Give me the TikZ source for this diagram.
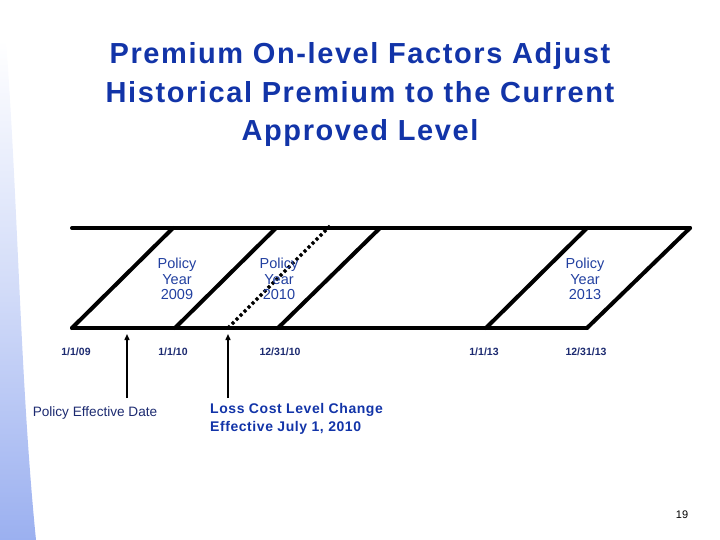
\documentclass[tikz,border=0pt]{standalone}
\usepackage{fontspec}
\setmainfont{Liberation Sans}
\usetikzlibrary{arrows.meta}
\definecolor{titleblue}{RGB}{18,52,168}
\definecolor{pyblue}{RGB}{34,64,160}
\definecolor{datenavy}{RGB}{28,42,112}
\definecolor{swoosh}{RGB}{155,176,240}
\tikzset{
  band/.style={line width=4pt, line cap=round, line join=round},
  dotline/.style={line width=3.5pt, dash pattern=on 3pt off 2.65pt},
  pointer/.style={line width=1.4pt, -{Triangle[length=6pt,width=5pt]}},
  datelbl/.style={font=\fontsize{10.5}{12}\selectfont\bfseries, text=datenavy, inner sep=0pt},
  pylbl/.style={font=\fontsize{14.5}{15.5}\selectfont, text=pyblue, align=center, inner sep=0pt},
  notelbl/.style={font=\fontsize{13.6}{15}\selectfont, text=datenavy, inner sep=0pt},
  lcllbl/.style={font=\fontsize{14}{18}\selectfont\bfseries\addfontfeature{LetterSpace=4}, text=titleblue, align=left, inner sep=0pt},
  titlelbl/.style={font=\fontsize{29}{38.5}\selectfont\bfseries\addfontfeature{LetterSpace=5.5}, text=titleblue, align=center, inner sep=0pt},
}
\begin{document}
\begin{tikzpicture}[x=1pt,y=-1pt]
\useasboundingbox (0,0) rectangle (720,540);
% background swoosh
\shade[top color=white, bottom color=swoosh, middle color=swoosh!45]
  (0,40) -- (6,40) .. controls (18,200) and (20,380) .. (36,540) -- (0,540) -- cycle;
% band lines
\coordinate (TL) at (72,228);
\coordinate (TR) at (690,228);
\coordinate (BL) at (72,328);
\coordinate (BR) at (587,328);
\coordinate (b09) at (72,328);   \coordinate (t09) at (173,228);
\coordinate (b10) at (175,328);  \coordinate (t10) at (276,228);
\coordinate (b11) at (278,328);  \coordinate (t11) at (380,228);
\coordinate (b13) at (486,328);  \coordinate (t13) at (587,228);
\coordinate (b14) at (587,328);  \coordinate (t14) at (690,228);
\coordinate (dB) at (228,328);   \coordinate (dT) at (330,226);
\draw[band] (TL) -- (TR);
\draw[band] (BL) -- (BR);
\foreach \p in {09,10,11,13,14} \draw[band] (b\p) -- (t\p);
\draw[dotline] (dB) -- (dT);
% policy year labels
\node[pylbl] (py09) at (177,279) {Policy\\Year\\2009};
\node[pylbl] (py10) at (279,279) {Policy\\Year\\2010};
\node[pylbl] (py13) at (585,279) {Policy\\Year\\2013};
% dates
\node[datelbl] (d1) at (76,352) {1/1/09};
\node[datelbl] (d2) at (173,352) {1/1/10};
\node[datelbl] (d3) at (280,352) {12/31/10};
\node[datelbl] (d4) at (484,352) {1/1/13};
\node[datelbl] (d5) at (586,352) {12/31/13};
% arrows
\coordinate (a1s) at (127,398);
\coordinate (a1e) at (127,334);
\coordinate (a2s) at (228,398);
\coordinate (a2e) at (228,334);
\draw[pointer] (a1s) -- (a1e);
\draw[pointer] (a2s) -- (a2e);
% notes
\node[notelbl] (ped) at (95,413) {Policy Effective Date};
\node[lcllbl, anchor=west] (lcl) at (210,419) {Loss Cost Level Change\\Effective July 1, 2010};
% title
\node[titlelbl] (title) at (360,95) {Premium On-level Factors Adjust\\Historical Premium to the Current\\Approved Level};
% page number
\node[font=\fontsize{11}{13}\selectfont, inner sep=0pt] (pg) at (682,515) {19};
\end{tikzpicture}
\end{document}
